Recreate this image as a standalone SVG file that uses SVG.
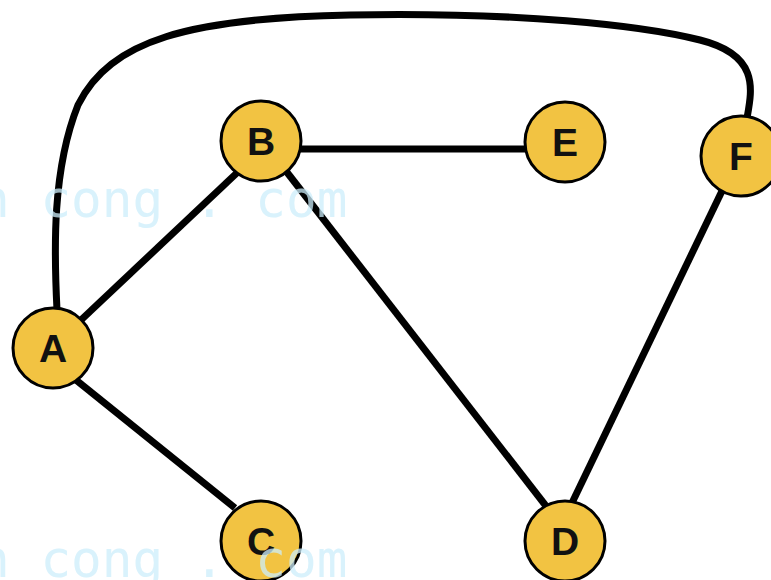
<svg xmlns="http://www.w3.org/2000/svg" width="771" height="580" viewBox="0 0 771 580">
<style>
.edge{fill:none;stroke:#000;stroke-width:7;stroke-linecap:butt}
.node circle{fill:#f2c342;stroke:#000;stroke-width:3}
.node text{font-family:"Liberation Sans",Arial,sans-serif;font-weight:bold;font-size:39px;fill:#111;text-anchor:middle}
.wm{font-family:"DejaVu Sans Mono",monospace;font-size:51px;fill:#cdeefb;opacity:0.75}
</style>
<rect width="771" height="580" fill="#fff"/>
<g id="connectors">
<path class="edge" d="M57,310 C54,250 52,170 78,105 C110,40 190,18 350,15 C520,12 640,25 700,40 C760,55 752,90 747,118"/>
<line class="edge" x1="81" y1="320" x2="240" y2="170"/>
<line class="edge" x1="76" y1="380" x2="235" y2="508"/>
<line class="edge" x1="300" y1="149" x2="526" y2="149"/>
<line class="edge" x1="286" y1="171" x2="546" y2="506"/>
<line class="edge" x1="734" y1="166" x2="571" y2="505"/>
</g>
<g id="node-A" class="node"><circle cx="53" cy="348" r="40"/><text x="53" y="362">A</text></g>
<g id="node-B" class="node"><circle cx="261" cy="141" r="40"/><text x="261" y="155">B</text></g>
<g id="node-E" class="node"><circle cx="565" cy="142" r="40"/><text x="565" y="156">E</text></g>
<g id="node-F" class="node"><circle cx="741" cy="156" r="40"/><text x="741" y="170">F</text></g>
<g id="node-C" class="node"><circle cx="261" cy="541" r="40"/><text x="261" y="555">C</text></g>
<g id="node-D" class="node"><circle cx="565" cy="541" r="40"/><text x="565" y="555">D</text></g>
<g id="watermark">
<text class="wm" x="-21" y="217">n cong . com</text>
<text class="wm" x="-21" y="577">n cong . com</text>
</g>
</svg>
